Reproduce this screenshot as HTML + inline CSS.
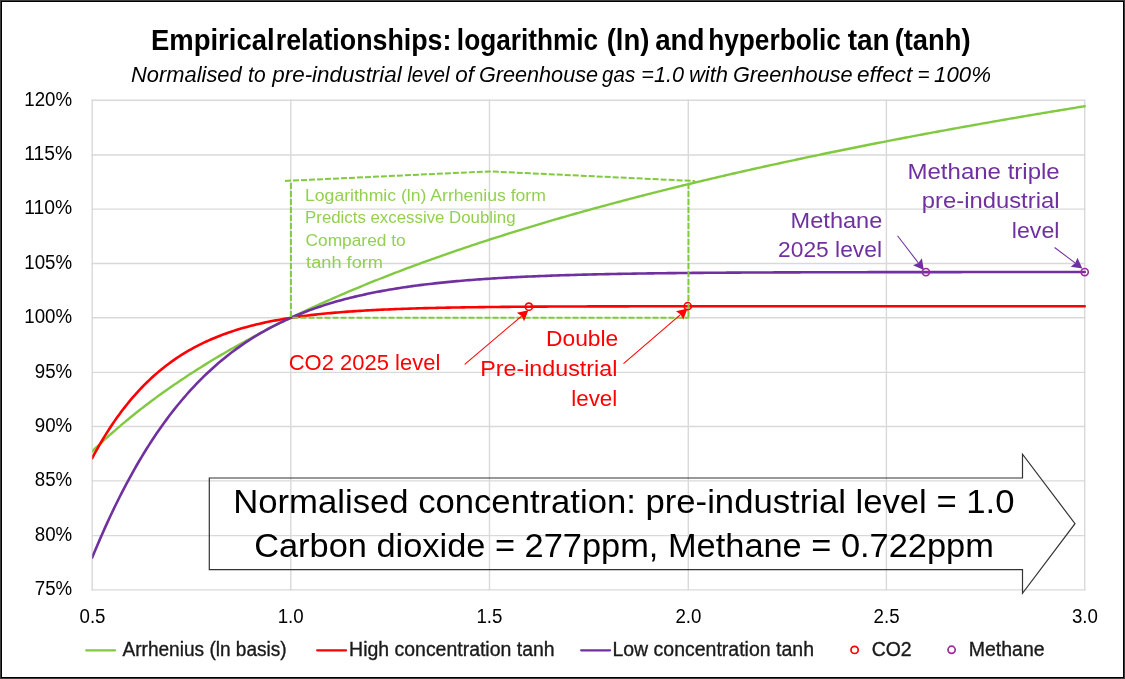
<!DOCTYPE html><html><head><meta charset="utf-8"><style>html,body{margin:0;padding:0;background:#fff;}svg{display:block;}</style></head><body><svg width="1125" height="679" viewBox="0 0 1125 679" font-family="'Liberation Sans', Arial, sans-serif">
<rect x="0" y="0" width="1125" height="679" fill="#fff"/>
<g stroke="#d9d9d9" stroke-width="1.4" stroke-linecap="square"><line x1="92.2" y1="100.20" x2="1084.7" y2="100.20"/><line x1="92.2" y1="155.00" x2="1084.7" y2="155.00"/><line x1="92.2" y1="209.15" x2="1084.7" y2="209.15"/><line x1="92.2" y1="263.45" x2="1084.7" y2="263.45"/><line x1="92.2" y1="317.70" x2="1084.7" y2="317.70"/><line x1="92.2" y1="372.40" x2="1084.7" y2="372.40"/><line x1="92.2" y1="426.50" x2="1084.7" y2="426.50"/><line x1="92.2" y1="480.90" x2="1084.7" y2="480.90"/><line x1="92.2" y1="535.60" x2="1084.7" y2="535.60"/><line x1="92.2" y1="589.90" x2="1084.7" y2="589.90"/><line x1="92.20" y1="100.2" x2="92.20" y2="589.9"/><line x1="290.80" y1="100.2" x2="290.80" y2="589.9"/><line x1="489.50" y1="100.2" x2="489.50" y2="589.9"/><line x1="688.30" y1="100.2" x2="688.30" y2="589.9"/><line x1="886.40" y1="100.2" x2="886.40" y2="589.9"/><line x1="1084.70" y1="100.2" x2="1084.70" y2="589.9"/></g>
<text x="24.28" y="105.5" font-size="20.0" fill="#000" textLength="47.83" lengthAdjust="spacingAndGlyphs">120%</text>
<text x="24.24" y="160.3" font-size="20.0" fill="#000" textLength="47.91" lengthAdjust="spacingAndGlyphs">115%</text>
<text x="24.24" y="214.45" font-size="20.0" fill="#000" textLength="47.91" lengthAdjust="spacingAndGlyphs">110%</text>
<text x="24.28" y="268.75" font-size="20.0" fill="#000" textLength="47.83" lengthAdjust="spacingAndGlyphs">105%</text>
<text x="24.28" y="323.0" font-size="20.0" fill="#000" textLength="47.83" lengthAdjust="spacingAndGlyphs">100%</text>
<text x="34.75" y="377.7" font-size="20.0" fill="#000" textLength="37.43" lengthAdjust="spacingAndGlyphs">95%</text>
<text x="34.75" y="431.8" font-size="20.0" fill="#000" textLength="37.43" lengthAdjust="spacingAndGlyphs">90%</text>
<text x="34.75" y="486.2" font-size="20.0" fill="#000" textLength="37.43" lengthAdjust="spacingAndGlyphs">85%</text>
<text x="34.75" y="540.9" font-size="20.0" fill="#000" textLength="37.43" lengthAdjust="spacingAndGlyphs">80%</text>
<text x="34.75" y="595.2" font-size="20.0" fill="#000" textLength="37.43" lengthAdjust="spacingAndGlyphs">75%</text>
<text x="79.50" y="623.0" font-size="20.0" fill="#000" textLength="26.00" lengthAdjust="spacingAndGlyphs">0.5</text>
<text x="277.73" y="623.0" font-size="20.0" fill="#000" textLength="26.00" lengthAdjust="spacingAndGlyphs">1.0</text>
<text x="476.48" y="623.0" font-size="20.0" fill="#000" textLength="26.00" lengthAdjust="spacingAndGlyphs">1.5</text>
<text x="675.46" y="623.0" font-size="20.0" fill="#000" textLength="26.00" lengthAdjust="spacingAndGlyphs">2.0</text>
<text x="873.61" y="623.0" font-size="20.0" fill="#000" textLength="26.00" lengthAdjust="spacingAndGlyphs">2.5</text>
<text x="1071.96" y="623.0" font-size="20.0" fill="#000" textLength="26.00" lengthAdjust="spacingAndGlyphs">3.0</text>
<defs><clipPath id="pc"><rect x="92.2" y="90" width="1000" height="510"/></clipPath></defs>
<g clip-path="url(#pc)" fill="none" stroke-linecap="round" stroke-linejoin="round">
<path d="M92.20,451.36 L94.68,448.96 L97.16,446.60 L99.64,444.26 L102.13,441.96 L104.61,439.68 L107.09,437.43 L109.57,435.20 L112.05,433.00 L114.53,430.82 L117.01,428.67 L119.49,426.54 L121.97,424.43 L124.46,422.35 L126.94,420.29 L129.42,418.25 L131.90,416.24 L134.38,414.24 L136.86,412.27 L139.34,410.31 L141.82,408.37 L144.31,406.46 L146.79,404.56 L149.27,402.68 L151.75,400.82 L154.23,398.98 L156.71,397.15 L159.19,395.34 L161.68,393.55 L164.16,391.78 L166.64,390.02 L169.12,388.27 L171.60,386.55 L174.08,384.83 L176.56,383.14 L179.04,381.45 L181.52,379.79 L184.01,378.13 L186.49,376.49 L188.97,374.87 L191.45,373.26 L193.93,371.66 L196.41,370.07 L198.89,368.50 L201.38,366.94 L203.86,365.39 L206.34,363.86 L208.82,362.34 L211.30,360.83 L213.78,359.33 L216.26,357.84 L218.74,356.36 L221.22,354.90 L223.71,353.44 L226.19,352.00 L228.67,350.57 L231.15,349.15 L233.63,347.74 L236.11,346.34 L238.59,344.95 L241.07,343.56 L243.56,342.19 L246.04,340.83 L248.52,339.48 L251.00,338.14 L253.48,336.81 L255.96,335.48 L258.44,334.17 L260.93,332.86 L263.41,331.56 L265.89,330.28 L268.37,329.00 L270.85,327.72 L273.33,326.46 L275.81,325.21 L278.29,323.96 L280.77,322.72 L283.26,321.49 L285.74,320.27 L288.22,319.05 L290.70,317.84 L293.18,316.64 L295.66,315.45 L298.14,314.27 L300.62,313.09 L303.11,311.92 L305.59,310.75 L308.07,309.60 L310.55,308.45 L313.03,307.30 L315.51,306.17 L317.99,305.04 L320.48,303.91 L322.96,302.80 L325.44,301.69 L327.92,300.58 L330.40,299.49 L332.88,298.39 L335.36,297.31 L337.84,296.23 L340.32,295.16 L342.81,294.09 L345.29,293.03 L347.77,291.97 L350.25,290.92 L352.73,289.88 L355.21,288.84 L357.69,287.81 L360.18,286.78 L362.66,285.76 L365.14,284.74 L367.62,283.73 L370.10,282.73 L372.58,281.73 L375.06,280.73 L377.54,279.74 L380.03,278.75 L382.51,277.77 L384.99,276.80 L387.47,275.83 L389.95,274.86 L392.43,273.90 L394.91,272.95 L397.39,272.00 L399.87,271.05 L402.36,270.11 L404.84,269.17 L407.32,268.24 L409.80,267.31 L412.28,266.39 L414.76,265.47 L417.24,264.55 L419.72,263.64 L422.21,262.73 L424.69,261.83 L427.17,260.93 L429.65,260.04 L432.13,259.15 L434.61,258.26 L437.09,257.38 L439.57,256.51 L442.06,255.63 L444.54,254.76 L447.02,253.90 L449.50,253.03 L451.98,252.18 L454.46,251.32 L456.94,250.47 L459.43,249.63 L461.91,248.78 L464.39,247.94 L466.87,247.11 L469.35,246.28 L471.83,245.45 L474.31,244.62 L476.79,243.80 L479.28,242.98 L481.76,242.17 L484.24,241.36 L486.72,240.55 L489.20,239.75 L491.68,238.94 L494.16,238.15 L496.64,237.35 L499.12,236.56 L501.61,235.77 L504.09,234.99 L506.57,234.21 L509.05,233.43 L511.53,232.65 L514.01,231.88 L516.49,231.11 L518.98,230.35 L521.46,229.59 L523.94,228.83 L526.42,228.07 L528.90,227.31 L531.38,226.56 L533.86,225.82 L536.34,225.07 L538.83,224.33 L541.31,223.59 L543.79,222.85 L546.27,222.12 L548.75,221.39 L551.23,220.66 L553.71,219.93 L556.19,219.21 L558.68,218.49 L561.16,217.77 L563.64,217.06 L566.12,216.35 L568.60,215.64 L571.08,214.93 L573.56,214.23 L576.04,213.52 L578.52,212.83 L581.01,212.13 L583.49,211.43 L585.97,210.74 L588.45,210.05 L590.93,209.37 L593.41,208.68 L595.89,208.00 L598.38,207.32 L600.86,206.64 L603.34,205.97 L605.82,205.30 L608.30,204.63 L610.78,203.96 L613.26,203.29 L615.74,202.63 L618.23,201.97 L620.71,201.31 L623.19,200.66 L625.67,200.00 L628.15,199.35 L630.63,198.70 L633.11,198.05 L635.59,197.41 L638.08,196.76 L640.56,196.12 L643.04,195.48 L645.52,194.85 L648.00,194.21 L650.48,193.58 L652.96,192.95 L655.44,192.32 L657.93,191.70 L660.41,191.07 L662.89,190.45 L665.37,189.83 L667.85,189.21 L670.33,188.59 L672.81,187.98 L675.29,187.37 L677.78,186.76 L680.26,186.15 L682.74,185.54 L685.22,184.94 L687.70,184.33 L690.18,183.73 L692.66,183.13 L695.14,182.54 L697.62,181.94 L700.11,181.35 L702.59,180.76 L705.07,180.17 L707.55,179.58 L710.03,178.99 L712.51,178.41 L714.99,177.82 L717.48,177.24 L719.96,176.66 L722.44,176.09 L724.92,175.51 L727.40,174.94 L729.88,174.36 L732.36,173.79 L734.84,173.22 L737.33,172.66 L739.81,172.09 L742.29,171.53 L744.77,170.96 L747.25,170.40 L749.73,169.84 L752.21,169.29 L754.69,168.73 L757.17,168.18 L759.66,167.62 L762.14,167.07 L764.62,166.52 L767.10,165.98 L769.58,165.43 L772.06,164.88 L774.54,164.34 L777.03,163.80 L779.51,163.26 L781.99,162.72 L784.47,162.18 L786.95,161.65 L789.43,161.11 L791.91,160.58 L794.39,160.05 L796.88,159.52 L799.36,158.99 L801.84,158.46 L804.32,157.94 L806.80,157.41 L809.28,156.89 L811.76,156.37 L814.24,155.85 L816.73,155.33 L819.21,154.81 L821.69,154.30 L824.17,153.78 L826.65,153.27 L829.13,152.76 L831.61,152.25 L834.09,151.74 L836.58,151.23 L839.06,150.73 L841.54,150.22 L844.02,149.72 L846.50,149.22 L848.98,148.71 L851.46,148.22 L853.94,147.72 L856.42,147.22 L858.91,146.72 L861.39,146.23 L863.87,145.74 L866.35,145.24 L868.83,144.75 L871.31,144.26 L873.79,143.78 L876.28,143.29 L878.76,142.80 L881.24,142.32 L883.72,141.83 L886.20,141.35 L888.68,140.87 L891.16,140.39 L893.64,139.91 L896.12,139.44 L898.61,138.96 L901.09,138.49 L903.57,138.01 L906.05,137.54 L908.53,137.07 L911.01,136.60 L913.49,136.13 L915.98,135.66 L918.46,135.19 L920.94,134.73 L923.42,134.26 L925.90,133.80 L928.38,133.34 L930.86,132.87 L933.34,132.41 L935.83,131.96 L938.31,131.50 L940.79,131.04 L943.27,130.58 L945.75,130.13 L948.23,129.68 L950.71,129.22 L953.19,128.77 L955.68,128.32 L958.16,127.87 L960.64,127.42 L963.12,126.98 L965.60,126.53 L968.08,126.08 L970.56,125.64 L973.04,125.20 L975.53,124.75 L978.01,124.31 L980.49,123.87 L982.97,123.43 L985.45,122.99 L987.93,122.56 L990.41,122.12 L992.89,121.69 L995.38,121.25 L997.86,120.82 L1000.34,120.39 L1002.82,119.95 L1005.30,119.52 L1007.78,119.09 L1010.26,118.67 L1012.74,118.24 L1015.23,117.81 L1017.71,117.39 L1020.19,116.96 L1022.67,116.54 L1025.15,116.11 L1027.63,115.69 L1030.11,115.27 L1032.59,114.85 L1035.08,114.43 L1037.56,114.01 L1040.04,113.60 L1042.52,113.18 L1045.00,112.76 L1047.48,112.35 L1049.96,111.94 L1052.44,111.52 L1054.92,111.11 L1057.41,110.70 L1059.89,110.29 L1062.37,109.88 L1064.85,109.47 L1067.33,109.06 L1069.81,108.66 L1072.29,108.25 L1074.78,107.85 L1077.26,107.44 L1079.74,107.04 L1082.22,106.64 L1084.70,106.23" stroke="#80c940" stroke-width="2.4"/>
<path d="M92.20,458.09 L94.68,453.49 L97.16,449.03 L99.64,444.69 L102.13,440.47 L104.61,436.37 L107.09,432.40 L109.57,428.53 L112.05,424.78 L114.53,421.14 L117.01,417.60 L119.49,414.17 L121.97,410.83 L124.46,407.60 L126.94,404.46 L129.42,401.41 L131.90,398.46 L134.38,395.59 L136.86,392.81 L139.34,390.11 L141.82,387.49 L144.31,384.95 L146.79,382.49 L149.27,380.10 L151.75,377.78 L154.23,375.53 L156.71,373.36 L159.19,371.25 L161.68,369.20 L164.16,367.21 L166.64,365.29 L169.12,363.43 L171.60,361.62 L174.08,359.87 L176.56,358.17 L179.04,356.53 L181.52,354.93 L184.01,353.39 L186.49,351.89 L188.97,350.44 L191.45,349.04 L193.93,347.67 L196.41,346.36 L198.89,345.08 L201.38,343.84 L203.86,342.64 L206.34,341.48 L208.82,340.36 L211.30,339.27 L213.78,338.21 L216.26,337.19 L218.74,336.20 L221.22,335.24 L223.71,334.31 L226.19,333.41 L228.67,332.54 L231.15,331.70 L233.63,330.88 L236.11,330.09 L238.59,329.33 L241.07,328.58 L243.56,327.87 L246.04,327.17 L248.52,326.50 L251.00,325.85 L253.48,325.22 L255.96,324.61 L258.44,324.01 L260.93,323.44 L263.41,322.89 L265.89,322.35 L268.37,321.83 L270.85,321.33 L273.33,320.84 L275.81,320.37 L278.29,319.92 L280.77,319.47 L283.26,319.05 L285.74,318.63 L288.22,318.23 L290.70,317.84 L293.18,317.47 L295.66,317.11 L298.14,316.75 L300.62,316.41 L303.11,316.08 L305.59,315.77 L308.07,315.46 L310.55,315.16 L313.03,314.87 L315.51,314.59 L317.99,314.32 L320.48,314.06 L322.96,313.80 L325.44,313.56 L327.92,313.32 L330.40,313.09 L332.88,312.87 L335.36,312.65 L337.84,312.44 L340.32,312.24 L342.81,312.05 L345.29,311.86 L347.77,311.67 L350.25,311.50 L352.73,311.33 L355.21,311.16 L357.69,311.00 L360.18,310.84 L362.66,310.69 L365.14,310.55 L367.62,310.41 L370.10,310.27 L372.58,310.14 L375.06,310.01 L377.54,309.89 L380.03,309.77 L382.51,309.65 L384.99,309.54 L387.47,309.43 L389.95,309.33 L392.43,309.23 L394.91,309.13 L397.39,309.03 L399.87,308.94 L402.36,308.85 L404.84,308.77 L407.32,308.68 L409.80,308.60 L412.28,308.53 L414.76,308.45 L417.24,308.38 L419.72,308.31 L422.21,308.24 L424.69,308.17 L427.17,308.11 L429.65,308.05 L432.13,307.99 L434.61,307.93 L437.09,307.87 L439.57,307.82 L442.06,307.77 L444.54,307.71 L447.02,307.67 L449.50,307.62 L451.98,307.57 L454.46,307.53 L456.94,307.48 L459.43,307.44 L461.91,307.40 L464.39,307.36 L466.87,307.32 L469.35,307.29 L471.83,307.25 L474.31,307.22 L476.79,307.18 L479.28,307.15 L481.76,307.12 L484.24,307.09 L486.72,307.06 L489.20,307.03 L491.68,307.01 L494.16,306.98 L496.64,306.96 L499.12,306.93 L501.61,306.91 L504.09,306.88 L506.57,306.86 L509.05,306.84 L511.53,306.82 L514.01,306.80 L516.49,306.78 L518.98,306.76 L521.46,306.74 L523.94,306.72 L526.42,306.71 L528.90,306.69 L531.38,306.67 L533.86,306.66 L536.34,306.64 L538.83,306.63 L541.31,306.61 L543.79,306.60 L546.27,306.59 L548.75,306.57 L551.23,306.56 L553.71,306.55 L556.19,306.54 L558.68,306.53 L561.16,306.52 L563.64,306.51 L566.12,306.50 L568.60,306.49 L571.08,306.48 L573.56,306.47 L576.04,306.46 L578.52,306.45 L581.01,306.44 L583.49,306.43 L585.97,306.43 L588.45,306.42 L590.93,306.41 L593.41,306.40 L595.89,306.40 L598.38,306.39 L600.86,306.38 L603.34,306.38 L605.82,306.37 L608.30,306.37 L610.78,306.36 L613.26,306.35 L615.74,306.35 L618.23,306.34 L620.71,306.34 L623.19,306.33 L625.67,306.33 L628.15,306.33 L630.63,306.32 L633.11,306.32 L635.59,306.31 L638.08,306.31 L640.56,306.31 L643.04,306.30 L645.52,306.30 L648.00,306.29 L650.48,306.29 L652.96,306.29 L655.44,306.29 L657.93,306.28 L660.41,306.28 L662.89,306.28 L665.37,306.27 L667.85,306.27 L670.33,306.27 L672.81,306.27 L675.29,306.26 L677.78,306.26 L680.26,306.26 L682.74,306.26 L685.22,306.25 L687.70,306.25 L690.18,306.25 L692.66,306.25 L695.14,306.25 L697.62,306.25 L700.11,306.24 L702.59,306.24 L705.07,306.24 L707.55,306.24 L710.03,306.24 L712.51,306.24 L714.99,306.23 L717.48,306.23 L719.96,306.23 L722.44,306.23 L724.92,306.23 L727.40,306.23 L729.88,306.23 L732.36,306.23 L734.84,306.22 L737.33,306.22 L739.81,306.22 L742.29,306.22 L744.77,306.22 L747.25,306.22 L749.73,306.22 L752.21,306.22 L754.69,306.22 L757.17,306.22 L759.66,306.22 L762.14,306.21 L764.62,306.21 L767.10,306.21 L769.58,306.21 L772.06,306.21 L774.54,306.21 L777.03,306.21 L779.51,306.21 L781.99,306.21 L784.47,306.21 L786.95,306.21 L789.43,306.21 L791.91,306.21 L794.39,306.21 L796.88,306.21 L799.36,306.21 L801.84,306.21 L804.32,306.21 L806.80,306.20 L809.28,306.20 L811.76,306.20 L814.24,306.20 L816.73,306.20 L819.21,306.20 L821.69,306.20 L824.17,306.20 L826.65,306.20 L829.13,306.20 L831.61,306.20 L834.09,306.20 L836.58,306.20 L839.06,306.20 L841.54,306.20 L844.02,306.20 L846.50,306.20 L848.98,306.20 L851.46,306.20 L853.94,306.20 L856.42,306.20 L858.91,306.20 L861.39,306.20 L863.87,306.20 L866.35,306.20 L868.83,306.20 L871.31,306.20 L873.79,306.20 L876.28,306.20 L878.76,306.20 L881.24,306.20 L883.72,306.20 L886.20,306.20 L888.68,306.20 L891.16,306.20 L893.64,306.20 L896.12,306.20 L898.61,306.20 L901.09,306.20 L903.57,306.20 L906.05,306.20 L908.53,306.20 L911.01,306.20 L913.49,306.20 L915.98,306.20 L918.46,306.19 L920.94,306.19 L923.42,306.19 L925.90,306.19 L928.38,306.19 L930.86,306.19 L933.34,306.19 L935.83,306.19 L938.31,306.19 L940.79,306.19 L943.27,306.19 L945.75,306.19 L948.23,306.19 L950.71,306.19 L953.19,306.19 L955.68,306.19 L958.16,306.19 L960.64,306.19 L963.12,306.19 L965.60,306.19 L968.08,306.19 L970.56,306.19 L973.04,306.19 L975.53,306.19 L978.01,306.19 L980.49,306.19 L982.97,306.19 L985.45,306.19 L987.93,306.19 L990.41,306.19 L992.89,306.19 L995.38,306.19 L997.86,306.19 L1000.34,306.19 L1002.82,306.19 L1005.30,306.19 L1007.78,306.19 L1010.26,306.19 L1012.74,306.19 L1015.23,306.19 L1017.71,306.19 L1020.19,306.19 L1022.67,306.19 L1025.15,306.19 L1027.63,306.19 L1030.11,306.19 L1032.59,306.19 L1035.08,306.19 L1037.56,306.19 L1040.04,306.19 L1042.52,306.19 L1045.00,306.19 L1047.48,306.19 L1049.96,306.19 L1052.44,306.19 L1054.92,306.19 L1057.41,306.19 L1059.89,306.19 L1062.37,306.19 L1064.85,306.19 L1067.33,306.19 L1069.81,306.19 L1072.29,306.19 L1074.78,306.19 L1077.26,306.19 L1079.74,306.19 L1082.22,306.19 L1084.70,306.19" stroke="#ff0000" stroke-width="2.6"/>
<path d="M92.20,557.58 L94.68,551.57 L97.16,545.66 L99.64,539.87 L102.13,534.18 L104.61,528.60 L107.09,523.12 L109.57,517.74 L112.05,512.47 L114.53,507.30 L117.01,502.22 L119.49,497.24 L121.97,492.36 L124.46,487.57 L126.94,482.88 L129.42,478.28 L131.90,473.77 L134.38,469.35 L136.86,465.01 L139.34,460.76 L141.82,456.60 L144.31,452.52 L146.79,448.53 L149.27,444.61 L151.75,440.78 L154.23,437.02 L156.71,433.34 L159.19,429.74 L161.68,426.21 L164.16,422.76 L166.64,419.37 L169.12,416.06 L171.60,412.82 L174.08,409.64 L176.56,406.53 L179.04,403.49 L181.52,400.52 L184.01,397.60 L186.49,394.75 L188.97,391.96 L191.45,389.23 L193.93,386.56 L196.41,383.95 L198.89,381.39 L201.38,378.89 L203.86,376.44 L206.34,374.05 L208.82,371.71 L211.30,369.42 L213.78,367.18 L216.26,364.99 L218.74,362.84 L221.22,360.75 L223.71,358.70 L226.19,356.70 L228.67,354.74 L231.15,352.82 L233.63,350.95 L236.11,349.12 L238.59,347.33 L241.07,345.58 L243.56,343.87 L246.04,342.20 L248.52,340.57 L251.00,338.97 L253.48,337.41 L255.96,335.89 L258.44,334.40 L260.93,332.94 L263.41,331.52 L265.89,330.12 L268.37,328.76 L270.85,327.44 L273.33,326.14 L275.81,324.87 L278.29,323.63 L280.77,322.42 L283.26,321.23 L285.74,320.08 L288.22,318.95 L290.70,317.84 L293.18,316.77 L295.66,315.71 L298.14,314.68 L300.62,313.68 L303.11,312.70 L305.59,311.74 L308.07,310.80 L310.55,309.88 L313.03,308.99 L315.51,308.12 L317.99,307.26 L320.48,306.43 L322.96,305.62 L325.44,304.82 L327.92,304.05 L330.40,303.29 L332.88,302.55 L335.36,301.82 L337.84,301.12 L340.32,300.43 L342.81,299.75 L345.29,299.10 L347.77,298.45 L350.25,297.83 L352.73,297.21 L355.21,296.62 L357.69,296.03 L360.18,295.46 L362.66,294.90 L365.14,294.36 L367.62,293.83 L370.10,293.31 L372.58,292.80 L375.06,292.31 L377.54,291.83 L380.03,291.36 L382.51,290.89 L384.99,290.45 L387.47,290.01 L389.95,289.58 L392.43,289.16 L394.91,288.75 L397.39,288.35 L399.87,287.96 L402.36,287.58 L404.84,287.21 L407.32,286.85 L409.80,286.50 L412.28,286.15 L414.76,285.81 L417.24,285.48 L419.72,285.16 L422.21,284.85 L424.69,284.54 L427.17,284.24 L429.65,283.95 L432.13,283.67 L434.61,283.39 L437.09,283.12 L439.57,282.85 L442.06,282.59 L444.54,282.34 L447.02,282.09 L449.50,281.85 L451.98,281.62 L454.46,281.39 L456.94,281.16 L459.43,280.94 L461.91,280.73 L464.39,280.52 L466.87,280.32 L469.35,280.12 L471.83,279.93 L474.31,279.74 L476.79,279.55 L479.28,279.37 L481.76,279.19 L484.24,279.02 L486.72,278.85 L489.20,278.69 L491.68,278.53 L494.16,278.38 L496.64,278.22 L499.12,278.07 L501.61,277.93 L504.09,277.79 L506.57,277.65 L509.05,277.51 L511.53,277.38 L514.01,277.25 L516.49,277.13 L518.98,277.01 L521.46,276.89 L523.94,276.77 L526.42,276.66 L528.90,276.54 L531.38,276.44 L533.86,276.33 L536.34,276.23 L538.83,276.12 L541.31,276.03 L543.79,275.93 L546.27,275.84 L548.75,275.74 L551.23,275.65 L553.71,275.57 L556.19,275.48 L558.68,275.40 L561.16,275.32 L563.64,275.24 L566.12,275.16 L568.60,275.09 L571.08,275.01 L573.56,274.94 L576.04,274.87 L578.52,274.80 L581.01,274.73 L583.49,274.67 L585.97,274.61 L588.45,274.54 L590.93,274.48 L593.41,274.42 L595.89,274.37 L598.38,274.31 L600.86,274.25 L603.34,274.20 L605.82,274.15 L608.30,274.10 L610.78,274.05 L613.26,274.00 L615.74,273.95 L618.23,273.90 L620.71,273.86 L623.19,273.81 L625.67,273.77 L628.15,273.73 L630.63,273.69 L633.11,273.65 L635.59,273.61 L638.08,273.57 L640.56,273.53 L643.04,273.49 L645.52,273.46 L648.00,273.42 L650.48,273.39 L652.96,273.36 L655.44,273.32 L657.93,273.29 L660.41,273.26 L662.89,273.23 L665.37,273.20 L667.85,273.17 L670.33,273.15 L672.81,273.12 L675.29,273.09 L677.78,273.07 L680.26,273.04 L682.74,273.02 L685.22,272.99 L687.70,272.97 L690.18,272.95 L692.66,272.92 L695.14,272.90 L697.62,272.88 L700.11,272.86 L702.59,272.84 L705.07,272.82 L707.55,272.80 L710.03,272.78 L712.51,272.76 L714.99,272.74 L717.48,272.73 L719.96,272.71 L722.44,272.69 L724.92,272.68 L727.40,272.66 L729.88,272.64 L732.36,272.63 L734.84,272.61 L737.33,272.60 L739.81,272.59 L742.29,272.57 L744.77,272.56 L747.25,272.54 L749.73,272.53 L752.21,272.52 L754.69,272.51 L757.17,272.50 L759.66,272.48 L762.14,272.47 L764.62,272.46 L767.10,272.45 L769.58,272.44 L772.06,272.43 L774.54,272.42 L777.03,272.41 L779.51,272.40 L781.99,272.39 L784.47,272.38 L786.95,272.37 L789.43,272.36 L791.91,272.36 L794.39,272.35 L796.88,272.34 L799.36,272.33 L801.84,272.32 L804.32,272.32 L806.80,272.31 L809.28,272.30 L811.76,272.29 L814.24,272.29 L816.73,272.28 L819.21,272.27 L821.69,272.27 L824.17,272.26 L826.65,272.26 L829.13,272.25 L831.61,272.24 L834.09,272.24 L836.58,272.23 L839.06,272.23 L841.54,272.22 L844.02,272.22 L846.50,272.21 L848.98,272.21 L851.46,272.20 L853.94,272.20 L856.42,272.19 L858.91,272.19 L861.39,272.18 L863.87,272.18 L866.35,272.18 L868.83,272.17 L871.31,272.17 L873.79,272.16 L876.28,272.16 L878.76,272.16 L881.24,272.15 L883.72,272.15 L886.20,272.15 L888.68,272.14 L891.16,272.14 L893.64,272.14 L896.12,272.13 L898.61,272.13 L901.09,272.13 L903.57,272.13 L906.05,272.12 L908.53,272.12 L911.01,272.12 L913.49,272.11 L915.98,272.11 L918.46,272.11 L920.94,272.11 L923.42,272.10 L925.90,272.10 L928.38,272.10 L930.86,272.10 L933.34,272.10 L935.83,272.09 L938.31,272.09 L940.79,272.09 L943.27,272.09 L945.75,272.09 L948.23,272.08 L950.71,272.08 L953.19,272.08 L955.68,272.08 L958.16,272.08 L960.64,272.08 L963.12,272.07 L965.60,272.07 L968.08,272.07 L970.56,272.07 L973.04,272.07 L975.53,272.07 L978.01,272.07 L980.49,272.06 L982.97,272.06 L985.45,272.06 L987.93,272.06 L990.41,272.06 L992.89,272.06 L995.38,272.06 L997.86,272.06 L1000.34,272.05 L1002.82,272.05 L1005.30,272.05 L1007.78,272.05 L1010.26,272.05 L1012.74,272.05 L1015.23,272.05 L1017.71,272.05 L1020.19,272.05 L1022.67,272.05 L1025.15,272.04 L1027.63,272.04 L1030.11,272.04 L1032.59,272.04 L1035.08,272.04 L1037.56,272.04 L1040.04,272.04 L1042.52,272.04 L1045.00,272.04 L1047.48,272.04 L1049.96,272.04 L1052.44,272.04 L1054.92,272.04 L1057.41,272.03 L1059.89,272.03 L1062.37,272.03 L1064.85,272.03 L1067.33,272.03 L1069.81,272.03 L1072.29,272.03 L1074.78,272.03 L1077.26,272.03 L1079.74,272.03 L1082.22,272.03 L1084.70,272.03" stroke="#7030a0" stroke-width="2.6"/>
</g>
<circle cx="528.90" cy="306.69" r="3.6" fill="none" stroke="#ff0000" stroke-width="1.6"/>
<circle cx="687.70" cy="306.25" r="3.6" fill="none" stroke="#ff0000" stroke-width="1.6"/>
<circle cx="925.90" cy="272.10" r="3.6" fill="none" stroke="#9c2a9c" stroke-width="1.6"/>
<circle cx="1084.70" cy="272.03" r="3.6" fill="none" stroke="#9c2a9c" stroke-width="1.6"/>
<g fill="none" stroke="#80c940" stroke-width="2" stroke-dasharray="6 2"><path d="M285,180.9 L489.8,171.4 L694.8,181"/><path d="M290.9,183 L290.9,317.84"/><path d="M688.5,183 L688.5,317.84"/><path d="M292.5,317.84 L689,317.84"/></g>
<text x="304.99" y="201.0" font-size="16" fill="#92d050" textLength="240.90" lengthAdjust="spacingAndGlyphs">Logarithmic (ln) Arrhenius form</text>
<text x="305.05" y="223.3" font-size="16" fill="#92d050" textLength="210.46" lengthAdjust="spacingAndGlyphs">Predicts excessive Doubling</text>
<text x="305.53" y="245.5" font-size="16" fill="#92d050" textLength="100.18" lengthAdjust="spacingAndGlyphs">Compared to</text>
<text x="306.13" y="267.8" font-size="16" fill="#92d050" textLength="76.84" lengthAdjust="spacingAndGlyphs">tanh form</text>
<text x="288.70" y="369.5" font-size="21.5" fill="#ff0000" textLength="151.60" lengthAdjust="spacingAndGlyphs">CO2 2025 level</text>
<text x="545.97" y="346.4" font-size="21.5" fill="#ff0000" textLength="72.33" lengthAdjust="spacingAndGlyphs">Double</text>
<text x="480.24" y="376.2" font-size="21.5" fill="#ff0000" textLength="137.11" lengthAdjust="spacingAndGlyphs">Pre-industrial</text>
<text x="571.24" y="405.8" font-size="21.5" fill="#ff0000" textLength="46.05" lengthAdjust="spacingAndGlyphs">level</text>
<text x="790.62" y="227.7" font-size="21.5" fill="#7030a0" textLength="91.69" lengthAdjust="spacingAndGlyphs">Methane</text>
<text x="778.06" y="257.4" font-size="21.5" fill="#7030a0" textLength="103.92" lengthAdjust="spacingAndGlyphs">2025 level</text>
<text x="907.48" y="178.7" font-size="21.5" fill="#7030a0" textLength="152.25" lengthAdjust="spacingAndGlyphs">Methane triple</text>
<text x="921.85" y="208.2" font-size="21.5" fill="#7030a0" textLength="137.61" lengthAdjust="spacingAndGlyphs">pre-industrial</text>
<text x="1011.79" y="238.1" font-size="21.5" fill="#7030a0" textLength="47.65" lengthAdjust="spacingAndGlyphs">level</text>
<line x1="464.7" y1="364.4" x2="521.62" y2="316.06" stroke="#ff0000" stroke-width="1.05"/><polygon points="528.4,310.3 524.10,321.30 521.62,316.06 516.85,312.76" fill="#ff0000"/>
<line x1="623.5" y1="363.6" x2="680.75" y2="314.40" stroke="#ff0000" stroke-width="1.05"/><polygon points="687.5,308.6 683.26,319.63 680.75,314.40 675.96,311.13" fill="#ff0000"/>
<line x1="897.5" y1="235.7" x2="918.38" y2="262.94" stroke="#7030a0" stroke-width="1.05"/><polygon points="923.8,270 913.03,265.15 918.38,262.94 921.92,258.34" fill="#7030a0"/>
<line x1="1054.6" y1="247.5" x2="1075.29" y2="263.05" stroke="#7030a0" stroke-width="1.05"/><polygon points="1082.4,268.4 1070.72,266.63 1075.29,263.05 1077.45,257.67" fill="#7030a0"/>
<polygon points="209.3,478 1022.5,478 1022.5,454.2 1075,523.7 1022.5,593.3 1022.5,569.7 209.3,569.7" fill="none" stroke="#333" stroke-width="1.2" stroke-linejoin="miter"/>
<text x="233.23" y="513.2" font-size="33" fill="#000" textLength="781.28" lengthAdjust="spacingAndGlyphs">Normalised concentration: pre-industrial level = 1.0</text>
<text x="254.18" y="557.2" font-size="33" fill="#000" textLength="739.66" lengthAdjust="spacingAndGlyphs">Carbon dioxide = 277ppm, Methane = 0.722ppm</text>
<g><text x="151.02" y="50.4" font-size="29" fill="#000" textLength="123.52" lengthAdjust="spacingAndGlyphs" font-weight="bold">Empirical</text><text x="275.76" y="50.4" font-size="29" fill="#000" textLength="175.63" lengthAdjust="spacingAndGlyphs" font-weight="bold">relationships:</text><text x="456.87" y="50.4" font-size="29" fill="#000" textLength="141.21" lengthAdjust="spacingAndGlyphs" font-weight="bold">logarithmic</text><text x="606.63" y="50.4" font-size="29" fill="#000" textLength="42.74" lengthAdjust="spacingAndGlyphs" font-weight="bold">(ln)</text><text x="655.17" y="50.4" font-size="29" fill="#000" textLength="49.42" lengthAdjust="spacingAndGlyphs" font-weight="bold">and</text><text x="708.26" y="50.4" font-size="29" fill="#000" textLength="132.57" lengthAdjust="spacingAndGlyphs" font-weight="bold">hyperbolic</text><text x="847.72" y="50.4" font-size="29" fill="#000" textLength="41.96" lengthAdjust="spacingAndGlyphs" font-weight="bold">tan</text><text x="894.63" y="50.4" font-size="29" fill="#000" textLength="75.95" lengthAdjust="spacingAndGlyphs" font-weight="bold">(tanh)</text></g>
<g><text x="131.04" y="81.9" font-size="22" fill="#000" textLength="110.65" lengthAdjust="spacingAndGlyphs" font-style="italic">Normalised</text><text x="248.05" y="81.9" font-size="22" fill="#000" textLength="17.56" lengthAdjust="spacingAndGlyphs" font-style="italic">to</text><text x="272.26" y="81.9" font-size="22" fill="#000" textLength="129.49" lengthAdjust="spacingAndGlyphs" font-style="italic">pre-industrial</text><text x="407.19" y="81.9" font-size="22" fill="#000" textLength="42.43" lengthAdjust="spacingAndGlyphs" font-style="italic">level</text><text x="455.33" y="81.9" font-size="22" fill="#000" textLength="18.74" lengthAdjust="spacingAndGlyphs" font-style="italic">of</text><text x="478.92" y="81.9" font-size="22" fill="#000" textLength="119.12" lengthAdjust="spacingAndGlyphs" font-style="italic">Greenhouse</text><text x="602.10" y="81.9" font-size="22" fill="#000" textLength="33.06" lengthAdjust="spacingAndGlyphs" font-style="italic">gas</text><text x="641.29" y="81.9" font-size="22" fill="#000" textLength="42.80" lengthAdjust="spacingAndGlyphs" font-style="italic">=1.0</text><text x="688.90" y="81.9" font-size="22" fill="#000" textLength="39.06" lengthAdjust="spacingAndGlyphs" font-style="italic">with</text><text x="732.91" y="81.9" font-size="22" fill="#000" textLength="119.83" lengthAdjust="spacingAndGlyphs" font-style="italic">Greenhouse</text><text x="857.01" y="81.9" font-size="22" fill="#000" textLength="55.30" lengthAdjust="spacingAndGlyphs" font-style="italic">effect</text><text x="917.56" y="81.9" font-size="22" fill="#000" textLength="12.04" lengthAdjust="spacingAndGlyphs" font-style="italic">=</text><text x="934.04" y="81.9" font-size="22" fill="#000" textLength="56.91" lengthAdjust="spacingAndGlyphs" font-style="italic">100%</text></g>
<g stroke-width="2.3" stroke-linecap="round"><line x1="86.2" y1="650.3" x2="115" y2="650.3" stroke="#80c940"/><line x1="317.2" y1="650.3" x2="346" y2="650.3" stroke="#ff0000"/><line x1="581.2" y1="650.3" x2="610" y2="650.3" stroke="#7030a0"/></g>
<circle cx="854.6" cy="649.9" r="3.6" fill="none" stroke="#ff0000" stroke-width="1.7"/>
<circle cx="951.6" cy="649.8" r="3.6" fill="none" stroke="#9c2a9c" stroke-width="1.7"/>
<text x="122.50" y="655.6" font-size="19.4" fill="#1a1a1a" textLength="164.23" lengthAdjust="spacingAndGlyphs" stroke="#1a1a1a" stroke-width="0.35">Arrhenius (ln basis)</text>
<text x="349.14" y="655.6" font-size="19.4" fill="#1a1a1a" textLength="205.47" lengthAdjust="spacingAndGlyphs" stroke="#1a1a1a" stroke-width="0.35">High concentration tanh</text>
<text x="612.44" y="655.6" font-size="19.4" fill="#1a1a1a" textLength="201.54" lengthAdjust="spacingAndGlyphs" stroke="#1a1a1a" stroke-width="0.35">Low concentration tanh</text>
<text x="871.63" y="655.6" font-size="19.4" fill="#1a1a1a" textLength="39.97" lengthAdjust="spacingAndGlyphs" stroke="#1a1a1a" stroke-width="0.35">CO2</text>
<text x="968.74" y="655.6" font-size="19.4" fill="#1a1a1a" textLength="75.87" lengthAdjust="spacingAndGlyphs" stroke="#1a1a1a" stroke-width="0.35">Methane</text>
<rect x="0.5" y="0.5" width="1124" height="678" fill="none" stroke="#3c3c3c" stroke-width="1"/>
<rect x="1.5" y="1.5" width="1122" height="676" fill="none" stroke="#000" stroke-width="1"/>
</svg></body></html>
